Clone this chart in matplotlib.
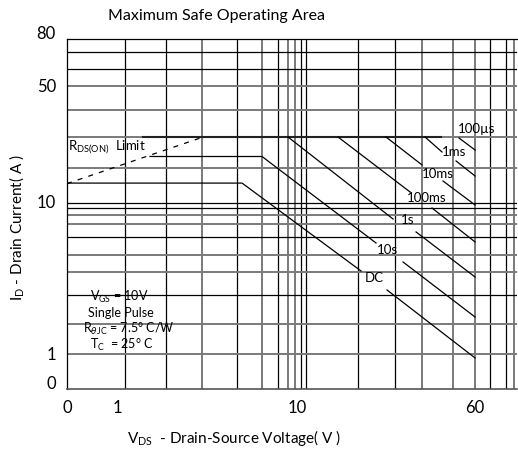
import numpy as np
import matplotlib.pyplot as plt

plt.rcParams['font.family'] = ['Lato', 'DejaVu Sans']
plt.rcParams['mathtext.fontset'] = 'dejavusans'

# axis ticks (values) and how far along the axis each one sits (px from the origin)
x_ticks = [0, 1, 10, 60]
x_tick_px = [0, 50, 230, 408]
y_ticks = [0, 1, 10, 50, 80]
y_tick_px = [0, 35, 187, 303, 350]

# grid lines (V / A); 'k' = dark, 'g' = grey
x_grid = [1.11, 1.87, 2.97, 4.64, 6.39, 7.84, 8.91, 9.75, 10.41, 10.95,
          18.48, 26.81, 35.18, 48.07, 60.0, 69.74, 81.94, 88.8]
x_grid_tone = ['k', 'k', 'g', 'k', 'g', 'k', 'g', 'g', 'k', 'k',
               'k', 'k', 'g', 'g', 'g', 'k', 'k', 'g']
y_grid = [70.24, 59.27, 50.0, 36.08, 24.64, 16.03, 9.85, 9.13, 8.21, 7.17,
          5.88, 4.48, 3.46, 2.44, 1.575, 1.0]
y_grid_tone = ['k', 'k', 'g', 'g', 'g', 'g', 'k', 'k', 'g', 'g',
               'k', 'g', 'g', 'k', 'g', 'g']

# SOA curves: (V, A) points, None splits a segment where a label sits
rds_limit_v = [0, 3.0]
rds_limit_a = [12.9, 24.6]
current_limit_v = [1.39, 42.6]
current_limit_a = [24.64, 24.64]

curves = {
    '100us': ([51.05, 60], [24.3, 20.57]),
    '1ms': ([36.26, 43.02, None, 49.55, 60], [24.64, 20.01, None, 17.67, 14.34]),
    '10ms': ([24.49, 35.18, None, 43.46, 60], [24.64, 16.72, None, 13.38, 9.56]),
    '100ms': ([15.11, 31.19, None, 38.9, 60], [24.64, 11.49, None, 9.13, 5.46]),
    '1s': ([8.91, 26.28, None, 33.13, 60], [24.64, 7.73, None, 6.35, 3.21]),
    '10s': ([1.525, 6.39, 22.14, None, 29.06, 60], [18.8, 18.8, 5.375, None, 4.03, 1.751]),
    'DC': ([0, 4.95, 19.05, None, 24.74, 60], [13.0, 13.0, 3.516, None, 2.637, 0.886]),
}


def make_scale(ticks, tick_px):
    # decades between the labelled ticks are not the same length on this chart,
    # so interpolate a log-like position through the tick anchors
    g_anchor = [t if t < 1 else 1 + np.log10(t) for t in ticks]
    slope = (tick_px[-1] - tick_px[-2]) / (g_anchor[-1] - g_anchor[-2])
    g_anchor = [-1] + g_anchor + [g_anchor[-1] + 3]
    p_anchor = [-tick_px[1]] + list(tick_px) + [tick_px[-1] + 3 * slope]

    def fwd(v):
        v = np.asarray(v, dtype=float)
        g = np.where(v < 1, v, 1 + np.log10(np.maximum(v, 1)))
        return np.interp(g, g_anchor, p_anchor)

    def inv(p):
        g = np.interp(np.asarray(p, dtype=float), p_anchor, g_anchor)
        return np.where(g < 1, g, 10 ** (g - 1))

    return fwd, inv


W, H = 518, 450
fig = plt.figure(figsize=(W / 100, H / 100), dpi=100)
ax = fig.add_axes([67 / W, 61 / H, 450 / W, 350 / H])
ax.set_xscale('function', functions=make_scale(x_ticks, x_tick_px))
ax.set_yscale('function', functions=make_scale(y_ticks, y_tick_px))
ax.set_xlim(0, 91.5)
ax.set_ylim(0, 80)

tone = {'k': dict(color='black', lw=0.9), 'g': dict(color='#7a7a7a', lw=1.4)}
for v, t in zip(x_grid, x_grid_tone):
    ax.axvline(v, zorder=1, **tone[t])
for v, t in zip(y_grid, y_grid_tone):
    ax.axhline(v, zorder=1, **tone[t])

ax.plot(rds_limit_v, rds_limit_a, color='black', lw=0.9, ls=(0, (4, 5)), zorder=3)
ax.plot(current_limit_v, current_limit_a, color='#222222', lw=1.5, zorder=3)
for name, (v, a) in curves.items():
    v = np.array([np.nan if p is None else p for p in v])
    a = np.array([np.nan if p is None else p for p in a])
    ax.plot(v, a, color='black', lw=0.9, zorder=3)

ax.spines['right'].set_visible(False)
ax.spines['top'].set_linewidth(0.9)
ax.spines['left'].set_linewidth(0.9)
ax.spines['bottom'].set_color('#555555')
ax.spines['bottom'].set_linewidth(1.2)

ax.set_xticks(x_ticks)
ax.set_xticklabels([str(t) for t in x_ticks])
ax.set_yticks(y_ticks)
ax.set_yticklabels([str(t) for t in y_ticks])
ax.minorticks_off()
ax.tick_params(axis='x', length=0, pad=8, labelsize=12)
ax.tick_params(axis='y', length=0, pad=8, labelsize=12)
# the top and bottom labels sit a little above their lines in the original
ax.get_yticklabels()[-1].set_va('baseline')
ax.get_yticklabels()[0].set_va('baseline')

ax.set_xlabel(r'V$_{\mathregular{DS}}$  - Drain-Source Voltage( V )', fontsize=11)
ax.xaxis.set_label_coords(0.372, -0.11)
ax.set_ylabel(r'I$_{\mathregular{D}}$ - Drain Current( A )', fontsize=11)
ax.yaxis.set_label_coords(-0.088, 0.46)

fig.text(217 / W, 1 - 16 / H, 'Maximum Safe Operating Area', fontsize=11.5,
         ha='center', va='center')


def label(x, y, s, size=9.5):
    fig.text(x / W, 1 - y / H, s, fontsize=size, ha='center', va='center', zorder=5)


label(477, 129, '100µs')
label(454, 152, '1ms')
label(438, 174, '10ms')
label(427, 198, '100ms')
label(408, 220, '1s')
label(387, 250, '10s')
label(374, 278, 'DC')
label(107, 147, r'R$_{\mathregular{DS(ON)}}$  Limit', 9.5)
label(119, 297, r'V$_{\mathregular{GS}}$ = 10V', 9)
label(121, 313, 'Single Pulse', 9)
label(129, 329, r'R$_{\theta\mathregular{JC}}$ = 7.5° C/W', 9)
label(122, 345, r'T$_{\mathregular{C}}$  = 25° C', 9)

fig.savefig('out.png', dpi=100)
